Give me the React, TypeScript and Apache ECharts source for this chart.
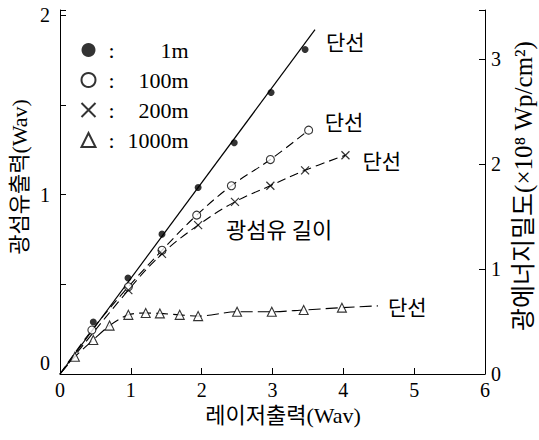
import React, { useEffect, useRef } from "react";
import * as echarts from "echarts";

// 1m fibre (filled circles) – measured points and fitted straight line
const x1m = [0.47, 0.96, 1.44, 1.95, 2.46, 2.98, 3.46];
const y1m = [0.29, 0.535, 0.78, 1.04, 1.29, 1.57, 1.81];
const fit1mX = [0, 3.6];
const fit1mY = [0, 1.92];

// 100m fibre (open circles)
const x100m = [0.45, 0.965, 1.44, 1.93, 2.42, 2.97, 3.51];
const y100m = [0.245, 0.486, 0.69, 0.886, 1.05, 1.196, 1.36];

// 200m fibre (crosses)
const x200m = [0.965, 1.44, 1.95, 2.47, 2.97, 3.46, 4.03];
const y200m = [0.468, 0.67, 0.83, 0.96, 1.05, 1.136, 1.22];

// 1000m fibre (triangles)
const x1000m = [0.21, 0.47, 0.7, 0.965, 1.21, 1.41, 1.69, 1.95, 2.5, 2.99, 3.44, 3.98];
const y1000m = [0.096, 0.19, 0.27, 0.33, 0.34, 0.338, 0.33, 0.323, 0.347, 0.347, 0.357, 0.37];
const tail1000mX = 4.49;
const tail1000mY = 0.38;

const xTicks = [0, 1, 2, 3, 4, 5, 6];
const leftMax = 2.03;
const rightMax = 3.47;

const SERIF = "Liberation Serif";
const MIXED = "Liberation Serif, Noto Sans CJK KR";
const KR = "Noto Sans CJK KR";
const CROSS = "path://M0,0L10,10M10,0L0,10";

const pairs = (xs: number[], ys: number[]) => xs.map((x, i) => [x, ys[i]]);

export default function App() {
  const ref = useRef<HTMLDivElement>(null);
  useEffect(() => {
    if (!ref.current) return;
    const chart = echarts.init(ref.current, null, { renderer: "svg" });
    const black = "#000";
    const endLabel = (distance: number, offset: number[]) => ({
      show: true,
      formatter: "단선",
      distance,
      offset,
      fontSize: 21,
      fontFamily: KR,
      color: black,
    });
    const intLabel = (zeroUp: boolean) => (v: number) => {
      if (Math.abs(v - Math.round(v)) > 1e-6) return "";
      const r = Math.round(v);
      return zeroUp && r === 0 ? "{z|0}" : String(r);
    };
    chart.setOption({
      animation: false,
      backgroundColor: "#fff",
      grid: { left: 60, right: 54, top: 10, bottom: 66 },
      legend: {
        orient: "vertical",
        left: 74,
        top: 34,
        itemWidth: 14,
        itemHeight: 14,
        itemGap: 8,
        data: [
          { name: "1m", icon: "circle" },
          { name: "100m", icon: "circle" },
          { name: "200m", icon: CROSS },
          { name: "1000m", icon: "triangle" },
        ],
        formatter: (n: string) => `{c|:}{v|${n}}`,
        textStyle: {
          color: black,
          fontFamily: SERIF,
          fontSize: 22,
          lineHeight: 20,
          rich: {
            c: { width: 22, align: "center", fontSize: 22, fontFamily: SERIF },
            v: { width: 66, align: "right", fontSize: 22, fontFamily: SERIF },
          },
        },
      },
      xAxis: {
        type: "value",
        min: xTicks[0],
        max: xTicks[xTicks.length - 1],
        interval: 1,
        axisLine: { lineStyle: { color: black, width: 1 } },
        axisTick: { inside: true, length: 6, lineStyle: { color: black } },
        axisLabel: { color: black, fontSize: 20, fontFamily: SERIF, margin: 6 },
        splitLine: { show: false },
      },
      yAxis: [
        {
          type: "value",
          min: 0,
          max: leftMax,
          interval: 0.5,
          axisLine: { show: true, lineStyle: { color: black, width: 1 } },
          axisTick: { show: true, inside: true, length: 6, lineStyle: { color: black } },
          axisLabel: {
            color: black,
            fontSize: 20,
            fontFamily: SERIF,
            margin: 10,
            formatter: intLabel(true),
            rich: { z: { fontSize: 20, fontFamily: SERIF, padding: [0, 0, 22, 0] } },
          },
          splitLine: { show: false },
        },
        {
          type: "value",
          position: "right",
          min: 0,
          max: rightMax,
          interval: 1,
          axisLine: { show: true, lineStyle: { color: black, width: 1 } },
          axisTick: { show: true, inside: true, length: 6, lineStyle: { color: black } },
          axisLabel: {
            color: black,
            fontSize: 20,
            fontFamily: SERIF,
            margin: 6,
            formatter: intLabel(false),
          },
          splitLine: { show: false },
        },
      ],
      graphic: [
        {
          type: "text",
          x: 283,
          y: 415,
          style: {
            text: "레이저출력(Wav)",
            align: "center",
            verticalAlign: "middle",
            fontSize: 22,
            fontFamily: MIXED,
            fill: black,
          },
        },
        {
          type: "text",
          x: 19,
          y: 177,
          rotation: Math.PI / 2,
          style: {
            text: "광섬유출력(Wav)",
            align: "center",
            verticalAlign: "middle",
            fontSize: 22,
            fontFamily: MIXED,
            fill: black,
          },
        },
        {
          type: "text",
          x: 523,
          y: 186,
          rotation: Math.PI / 2,
          style: {
            text: "광에너지밀도(×10⁸ Wp/cm²)",
            align: "center",
            verticalAlign: "middle",
            fontSize: 25,
            fontFamily: MIXED,
            fill: black,
          },
        },
        {
          type: "text",
          left: 226,
          top: 217,
          style: { text: "광섬유 길이", fontSize: 22, fontFamily: KR, fill: black },
        },
      ],
      series: [
        {
          name: "fit1m",
          type: "line",
          data: pairs(fit1mX, fit1mY),
          showSymbol: false,
          symbol: "none",
          lineStyle: { color: black, width: 1.2 },
          endLabel: endLabel(11, [0, 11]),
        },
        {
          name: "curve100m",
          type: "line",
          data: [[0, 0], ...pairs(x100m, y100m)],
          smooth: 0.4,
          symbol: "none",
          lineStyle: { color: black, width: 1.1, type: [9, 5] },
          endLabel: endLabel(16, [0, -9]),
        },
        {
          name: "curve200m",
          type: "line",
          data: [[0, 0], ...pairs(x200m, y200m)],
          smooth: 0.4,
          symbol: "none",
          lineStyle: { color: black, width: 1.1, type: [9, 5] },
          endLabel: endLabel(17, [0, 5]),
        },
        {
          name: "curve1000m",
          type: "line",
          data: [[0, 0], ...pairs(x1000m, y1000m), [tail1000mX, tail1000mY]],
          smooth: 0.3,
          symbol: "none",
          lineStyle: { color: black, width: 1.1, type: [12, 5] },
          endLabel: endLabel(10, [0, 0]),
        },
        {
          name: "1m",
          type: "scatter",
          data: pairs(x1m, y1m),
          symbol: "circle",
          symbolSize: 7,
          itemStyle: { color: black },
          z: 5,
        },
        {
          name: "100m",
          type: "scatter",
          data: pairs(x100m, y100m),
          symbol: "circle",
          symbolSize: 8,
          itemStyle: { color: "#fff", borderColor: black, borderWidth: 1.1 },
          z: 5,
        },
        {
          name: "200m",
          type: "scatter",
          data: pairs(x200m, y200m),
          symbol: CROSS,
          symbolSize: 8,
          itemStyle: { color: "none", borderColor: black, borderWidth: 1.2 },
          z: 5,
        },
        {
          name: "1000m",
          type: "scatter",
          data: pairs(x1000m, y1000m),
          symbol: "triangle",
          symbolSize: 9,
          itemStyle: { color: "#fff", borderColor: black, borderWidth: 1.1 },
          z: 5,
        },
      ],
    });
    return () => chart.dispose();
  }, []);
  return <div ref={ref} style={{ width: 539, height: 440, position: "absolute", left: 0, top: 0 }} />;
}
